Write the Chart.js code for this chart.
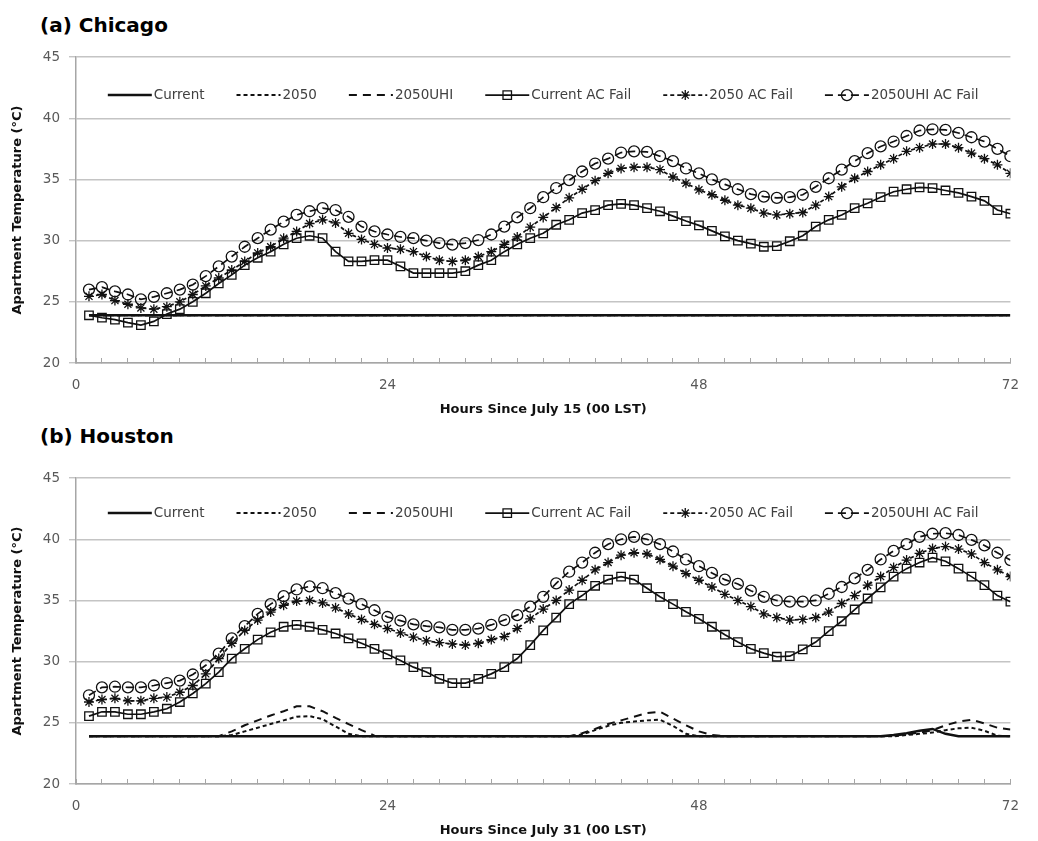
<!DOCTYPE html>
<html>
<head>
<meta charset="utf-8">
<title>Apartment temperature, Chicago and Houston</title>
<script src="https://cdn.jsdelivr.net/npm/chart.js"></script>
<style>
  body { margin: 0; background: #fff; }
  #page { position: relative; width: 1038px; height: 841px; overflow: hidden; }
  .panel-title {
    position: absolute; left: 40px; margin: 0;
    font: bold 20px/24px "DejaVu Sans", sans-serif; color: #000;
  }
  canvas { position: absolute; left: 0; }
</style>
</head>
<body>
<div id="page">
  <div class="panel-title" style="top:13px">(a) Chicago</div>
  <canvas id="chicago" width="1038" height="383" style="top:40px"></canvas>
  <div class="panel-title" style="top:424px">(b) Houston</div>
  <canvas id="houston" width="1038" height="383" style="top:461px"></canvas>
</div>
<script>
// hourly model output, hours 1..72
const hours = [
  1, 2, 3, 4, 5, 6, 7, 8, 9, 10, 11, 12,
  13, 14, 15, 16, 17, 18, 19, 20, 21, 22, 23, 24,
  25, 26, 27, 28, 29, 30, 31, 32, 33, 34, 35, 36,
  37, 38, 39, 40, 41, 42, 43, 44, 45, 46, 47, 48,
  49, 50, 51, 52, 53, 54, 55, 56, 57, 58, 59, 60,
  61, 62, 63, 64, 65, 66, 67, 68, 69, 70, 71, 72
];
const xTickLabels = [0, 24, 48, 72];
const seriesNames = ['Current', '2050', '2050UHI', 'Current AC Fail', '2050 AC Fail', '2050UHI AC Fail'];

// Chicago (July 15-17)
const chiCurrent = [
  23.9, 23.9, 23.9, 23.9, 23.9, 23.9, 23.9, 23.9, 23.9, 23.9, 23.9, 23.9,
  23.9, 23.9, 23.9, 23.9, 23.9, 23.9, 23.9, 23.9, 23.9, 23.9, 23.9, 23.9,
  23.9, 23.9, 23.9, 23.9, 23.9, 23.9, 23.9, 23.9, 23.9, 23.9, 23.9, 23.9,
  23.9, 23.9, 23.9, 23.9, 23.9, 23.9, 23.9, 23.9, 23.9, 23.9, 23.9, 23.9,
  23.9, 23.9, 23.9, 23.9, 23.9, 23.9, 23.9, 23.9, 23.9, 23.9, 23.9, 23.9,
  23.9, 23.9, 23.9, 23.9, 23.9, 23.9, 23.9, 23.9, 23.9, 23.9, 23.9, 23.9
];
const chi2050 = [
  23.9, 23.9, 23.9, 23.9, 23.9, 23.9, 23.9, 23.9, 23.9, 23.9, 23.9, 23.9,
  23.9, 23.9, 23.9, 23.9, 23.9, 23.9, 23.9, 23.9, 23.9, 23.9, 23.9, 23.9,
  23.9, 23.9, 23.9, 23.9, 23.9, 23.9, 23.9, 23.9, 23.9, 23.9, 23.9, 23.9,
  23.9, 23.9, 23.9, 23.9, 23.9, 23.9, 23.9, 23.9, 23.9, 23.9, 23.9, 23.9,
  23.9, 23.9, 23.9, 23.9, 23.9, 23.9, 23.9, 23.9, 23.9, 23.9, 23.9, 23.9,
  23.9, 23.9, 23.9, 23.9, 23.9, 23.9, 23.9, 23.9, 23.9, 23.9, 23.9, 23.9
];
const chi2050UHI = [
  23.9, 23.9, 23.9, 23.9, 23.9, 23.9, 23.9, 23.9, 23.9, 23.9, 23.9, 23.9,
  23.9, 23.9, 23.9, 23.9, 23.9, 23.9, 23.9, 23.9, 23.9, 23.9, 23.9, 23.9,
  23.9, 23.9, 23.9, 23.9, 23.9, 23.9, 23.9, 23.9, 23.9, 23.9, 23.9, 23.9,
  23.9, 23.9, 23.9, 23.9, 23.9, 23.9, 23.9, 23.9, 23.9, 23.9, 23.9, 23.9,
  23.9, 23.9, 23.9, 23.9, 23.9, 23.9, 23.9, 23.9, 23.9, 23.9, 23.9, 23.9,
  23.9, 23.9, 23.9, 23.9, 23.9, 23.9, 23.9, 23.9, 23.9, 23.9, 23.9, 23.9
];
const chiCurrentAC = [
  23.9, 23.7, 23.55, 23.3, 23.1, 23.4, 24.0, 24.4, 25.0, 25.7, 26.5, 27.2,
  28.0, 28.6, 29.1, 29.7, 30.2, 30.4, 30.2, 29.1, 28.3, 28.3, 28.4, 28.4,
  27.9, 27.35, 27.35, 27.35, 27.35, 27.5, 28.0, 28.4, 29.1, 29.7, 30.2, 30.6,
  31.3, 31.7, 32.25, 32.5, 32.9, 33.0, 32.9, 32.65, 32.4, 32.0, 31.6, 31.25,
  30.8, 30.35, 30.0, 29.75, 29.5, 29.55, 29.95, 30.4, 31.15, 31.7, 32.1, 32.65,
  33.05, 33.55, 34.0, 34.2, 34.35, 34.3, 34.1, 33.9, 33.6, 33.25, 32.5, 32.2
];
const chi2050AC = [
  25.45, 25.6, 25.1, 24.8, 24.5, 24.4, 24.6, 25.0, 25.6, 26.3, 26.95, 27.6,
  28.3, 29.0, 29.5, 30.2, 30.75, 31.4, 31.7, 31.45, 30.6, 30.1, 29.7, 29.4,
  29.3, 29.1, 28.7, 28.4, 28.3, 28.4, 28.7, 29.1, 29.7, 30.3, 31.1, 31.9,
  32.7, 33.5, 34.2, 34.9, 35.5, 35.9, 36.0, 36.0, 35.8, 35.2, 34.7, 34.15,
  33.75, 33.3, 32.9, 32.65, 32.25, 32.1, 32.2, 32.3, 32.9, 33.6, 34.4, 35.1,
  35.65, 36.2, 36.7, 37.3, 37.6, 37.9, 37.9, 37.6, 37.15, 36.7, 36.2, 35.5
];
const chi2050UHIAC = [
  26.0, 26.2, 25.85, 25.6, 25.2, 25.4, 25.7, 26.0, 26.4, 27.1, 27.9, 28.7,
  29.5, 30.2, 30.9, 31.55, 32.1, 32.4, 32.65, 32.5, 31.95, 31.15, 30.75, 30.5,
  30.3, 30.2, 30.0, 29.8, 29.67, 29.8, 30.05, 30.5, 31.15, 31.9, 32.65, 33.55,
  34.3, 34.95, 35.65, 36.3, 36.7, 37.2, 37.3, 37.25, 36.9, 36.5, 35.9, 35.5,
  35.0, 34.6, 34.2, 33.8, 33.6, 33.5, 33.55, 33.75, 34.4, 35.1, 35.8, 36.5,
  37.15, 37.7, 38.1, 38.55, 39.0, 39.1, 39.05, 38.8, 38.45, 38.1, 37.5, 36.9
];

// Houston (July 31 - August 2)
const houCurrent = [
  23.9, 23.9, 23.9, 23.9, 23.9, 23.9, 23.9, 23.9, 23.9, 23.9, 23.9, 23.9,
  23.9, 23.9, 23.9, 23.9, 23.9, 23.9, 23.9, 23.9, 23.9, 23.9, 23.9, 23.9,
  23.9, 23.9, 23.9, 23.9, 23.9, 23.9, 23.9, 23.9, 23.9, 23.9, 23.9, 23.9,
  23.9, 23.9, 23.9, 23.9, 23.9, 23.9, 23.9, 23.9, 23.9, 23.9, 23.9, 23.9,
  23.9, 23.9, 23.9, 23.9, 23.9, 23.9, 23.9, 23.9, 23.9, 23.9, 23.9, 23.9,
  23.9, 23.9, 24.0, 24.15, 24.35, 24.5, 24.1, 23.9, 23.9, 23.9, 23.9, 23.9
];
const hou2050 = [
  23.9, 23.9, 23.9, 23.9, 23.9, 23.9, 23.9, 23.9, 23.9, 23.9, 23.9, 24.0,
  24.3, 24.6, 24.9, 25.2, 25.5, 25.55, 25.3, 24.7, 24.1, 23.9, 23.9, 23.9,
  23.9, 23.9, 23.9, 23.9, 23.9, 23.9, 23.9, 23.9, 23.9, 23.9, 23.9, 23.9,
  23.9, 23.9, 24.05, 24.4, 24.75, 25.0, 25.1, 25.2, 25.25, 24.75, 24.1, 23.9,
  23.9, 23.9, 23.9, 23.9, 23.9, 23.9, 23.9, 23.9, 23.9, 23.9, 23.9, 23.9,
  23.9, 23.9, 23.9, 24.0, 24.1, 24.2, 24.4, 24.55, 24.6, 24.35, 23.95, 23.9
];
const hou2050UHI = [
  23.9, 23.9, 23.9, 23.9, 23.9, 23.9, 23.9, 23.9, 23.9, 23.9, 23.9, 24.3,
  24.8, 25.2, 25.6, 25.95, 26.35, 26.35, 25.95, 25.4, 24.9, 24.4, 23.95, 23.9,
  23.9, 23.9, 23.9, 23.9, 23.9, 23.9, 23.9, 23.9, 23.9, 23.9, 23.9, 23.9,
  23.9, 23.9, 24.15, 24.5, 24.9, 25.2, 25.5, 25.8, 25.9, 25.35, 24.8, 24.3,
  24.0, 23.9, 23.9, 23.9, 23.9, 23.9, 23.9, 23.9, 23.9, 23.9, 23.9, 23.9,
  23.9, 23.9, 23.95, 24.05, 24.2, 24.4, 24.8, 25.1, 25.25, 24.95, 24.6, 24.45
];
const houCurrentAC = [
  25.55, 25.9, 25.9, 25.7, 25.7, 25.9, 26.15, 26.7, 27.4, 28.2, 29.15, 30.25,
  31.05, 31.8, 32.4, 32.85, 33.0, 32.85, 32.6, 32.3, 31.9, 31.5, 31.05, 30.6,
  30.1, 29.55, 29.15, 28.6, 28.25, 28.25, 28.6, 29.0, 29.55, 30.25, 31.35, 32.55,
  33.6, 34.7, 35.4, 36.2, 36.7, 36.95, 36.7, 36.0, 35.3, 34.7, 34.07, 33.5,
  32.85, 32.2, 31.6, 31.05, 30.7, 30.4, 30.45, 31.0, 31.6, 32.5, 33.3, 34.26,
  35.16, 36.07, 36.95, 37.6, 38.1, 38.5, 38.2, 37.6, 36.95, 36.25, 35.4, 34.9
];
const hou2050AC = [
  26.7, 26.9, 27.0, 26.8, 26.8, 27.0, 27.1, 27.5, 28.05, 29.0, 30.25, 31.5,
  32.55, 33.4, 34.05, 34.6, 34.95, 35.0, 34.8, 34.4, 33.9, 33.45, 33.05, 32.7,
  32.35, 32.0, 31.7, 31.55, 31.45, 31.35, 31.5, 31.8, 32.05, 32.7, 33.5, 34.3,
  35.0, 35.85, 36.65, 37.5, 38.1, 38.7, 38.9, 38.8, 38.35, 37.8, 37.2, 36.65,
  36.1, 35.5, 35.0, 34.5, 33.9, 33.6, 33.4, 33.45, 33.6, 34.05, 34.75, 35.4,
  36.25, 36.95, 37.7, 38.3, 38.85, 39.25, 39.4, 39.2, 38.8, 38.1, 37.5, 36.95
];
const hou2050UHIAC = [
  27.25, 27.9, 27.95, 27.9, 27.9, 28.05, 28.25, 28.45, 28.95, 29.7, 30.65, 31.9,
  32.9, 33.9, 34.7, 35.35, 35.9, 36.15, 36.0, 35.6, 35.15, 34.7, 34.2, 33.65,
  33.35, 33.05, 32.9, 32.8, 32.6, 32.6, 32.7, 33.0, 33.4, 33.8, 34.5, 35.3,
  36.4, 37.35, 38.1, 38.9, 39.6, 40.0, 40.2, 40.0, 39.6, 39.0, 38.35, 37.8,
  37.25, 36.7, 36.35, 35.8, 35.3, 35.0, 34.9, 34.9, 35.0, 35.55, 36.1, 36.8,
  37.5, 38.35, 39.05, 39.6, 40.2, 40.45, 40.5, 40.35, 39.95, 39.5, 38.9, 38.3
];

Chart.defaults.font.family = "'DejaVu Sans', sans-serif";
Chart.defaults.color = '#595959';

const ink = '#111';
const gridGrey = '#c4c4c4';
const axisGrey = '#a6a6a6';

// line / marker look of each scenario, same order as seriesNames
const seriesStyles = [
  { borderWidth: 2.5, borderDash: [], pointStyle: false, pointRadius: 0 },
  { borderWidth: 2, borderDash: [4, 3], pointStyle: false, pointRadius: 0 },
  { borderWidth: 2, borderDash: [8, 6], pointStyle: false, pointRadius: 0 },
  { borderWidth: 1.7, borderDash: [], pointStyle: 'rect', pointRadius: 6 },
  { borderWidth: 1.7, borderDash: [4, 3], pointStyle: 'star', pointRadius: 5 },
  { borderWidth: 1.7, borderDash: [8, 5], pointStyle: 'circle', pointRadius: 5.5 }
];

// legend drawn inside the plot, in the band under the top gridline
const insideLegend = {
  id: 'insideLegend',
  afterDatasetsDraw(chart, args, opts) {
    const ctx = chart.ctx;
    const area = chart.chartArea;
    const y = area.top + opts.offset;
    ctx.save();
    ctx.font = opts.font;
    const items = chart.data.datasets.map(ds => ({
      ds, w: opts.sample + opts.textGap + ctx.measureText(ds.label).width
    }));
    const total = items.reduce((s, it) => s + it.w, 0) + opts.gap * (items.length - 1);
    let x = (area.left + area.right) / 2 - total / 2;
    items.forEach(({ ds, w }) => {
      ctx.strokeStyle = ds.borderColor;
      ctx.lineWidth = ds.borderWidth;
      ctx.setLineDash(ds.borderDash);
      ctx.beginPath();
      ctx.moveTo(x, y);
      ctx.lineTo(x + opts.sample, y);
      ctx.stroke();
      ctx.setLineDash([]);
      if (ds.pointRadius > 0 && Chart.helpers && Chart.helpers.drawPoint) {
        ctx.strokeStyle = ds.pointBorderColor;
        ctx.fillStyle = ds.pointBackgroundColor;
        ctx.lineWidth = ds.pointBorderWidth;
        Chart.helpers.drawPoint(ctx, {
          pointStyle: ds.pointStyle, radius: ds.pointRadius, rotation: 0, borderWidth: ds.pointBorderWidth
        }, x + opts.sample / 2, y);
      }
      ctx.fillStyle = opts.color;
      ctx.textAlign = 'left';
      ctx.textBaseline = 'middle';
      ctx.fillText(ds.label, x + opts.sample + opts.textGap, y);
      x += w + opts.gap;
    });
    ctx.restore();
  }
};

function makeChart(canvasId, series, xTitle, legendOffset) {
  const datasets = series.map((values, i) => Object.assign({
    label: seriesNames[i],
    data: values,
    borderColor: ink,
    pointBorderColor: ink,
    pointBackgroundColor: 'rgba(255,255,255,0)',
    pointBorderWidth: 1.3,
    tension: 0,
    fill: false
  }, seriesStyles[i]));

  return new Chart(document.getElementById(canvasId), {
    type: 'line',
    data: { labels: hours, datasets: datasets },
    plugins: [insideLegend],
    options: {
      responsive: false,
      animation: false,
      events: [],
      layout: { padding: { top: 17, right: 11, bottom: 0, left: 0 } },
      scales: {
        x: {
          type: 'linear',
          min: 0,
          max: 72,
          afterFit(scale) { scale.height = 60; },
          border: { color: axisGrey, width: 1.5 },
          grid: { drawOnChartArea: false, color: axisGrey, tickLength: -5, lineWidth: 1 },
          ticks: {
            stepSize: 2,
            autoSkip: false,
            maxTicksLimit: 40,
            maxRotation: 0,
            padding: 19,
            font: { size: 13.5 },
            callback: v => (xTickLabels.includes(v) ? v : '')
          },
          title: {
            display: true,
            text: xTitle,
            color: '#111',
            font: { size: 13, weight: 'bold' },
            padding: { top: 0, bottom: 6 }
          }
        },
        y: {
          min: 20,
          max: 45,
          afterFit(scale) { scale.width = 76; },
          border: { color: axisGrey, width: 1.5 },
          grid: { color: gridGrey, lineWidth: 1.4, tickLength: 7 },
          ticks: { stepSize: 5, padding: 9, font: { size: 13.5 } },
          title: {
            display: true,
            text: 'Apartment Temperature (°C)',
            color: '#111',
            font: { size: 13, weight: 'bold' },
            padding: { top: 10, bottom: 0 }
          }
        }
      },
      plugins: {
        legend: { display: false },
        tooltip: { enabled: false },
        insideLegend: {
          offset: legendOffset,
          font: "13.5px 'DejaVu Sans', sans-serif",
          color: '#404040',
          sample: 44,
          textGap: 2,
          gap: 32
        }
      }
    }
  });
}

makeChart('chicago',
  [chiCurrent, chi2050, chi2050UHI, chiCurrentAC, chi2050AC, chi2050UHIAC],
  'Hours Since July 15 (00 LST)', 38);
makeChart('houston',
  [houCurrent, hou2050, hou2050UHI, houCurrentAC, hou2050AC, hou2050UHIAC],
  'Hours Since July 31 (00 LST)', 35);
</script>
</body>
</html>
